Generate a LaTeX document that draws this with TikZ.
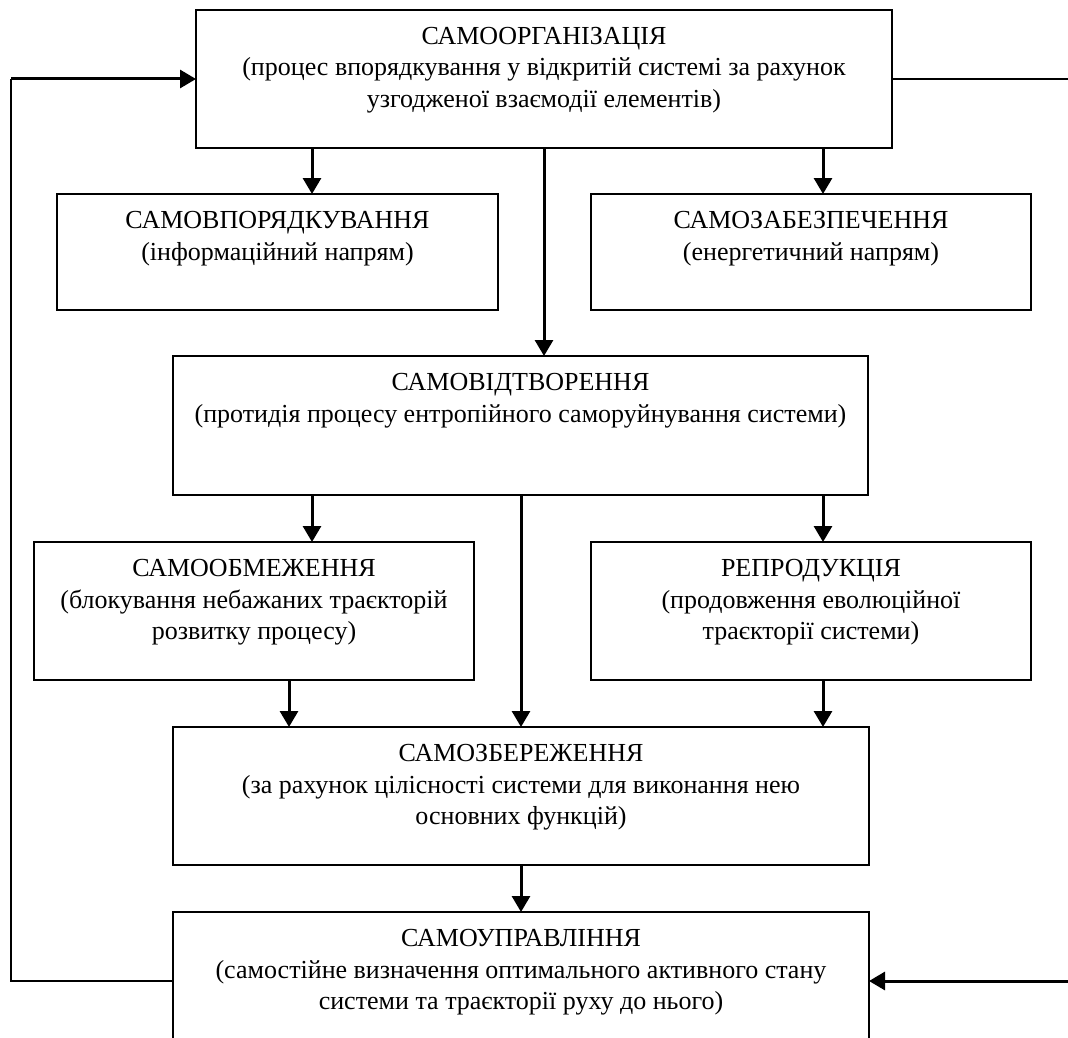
\documentclass[tikz,border=0pt]{standalone}
\usepackage{fontspec}
\setmainfont{Liberation Serif}
\usetikzlibrary{arrows.meta,calc}
\newcommand{\boxtext}[3]{\parbox[c][#2][t]{#1}{\centering\fontsize{26}{31.5}\selectfont\rule{0pt}{34.5pt}#3}}
\tikzset{
  blk/.style={draw, line width=1.6pt, inner sep=0pt, outer sep=0pt, anchor=north west},
  arr/.style={line width=3pt, -{Triangle[length=16pt,width=18pt]}},
  fb/.style={line width=1.6pt},
}
\begin{document}
\begin{tikzpicture}[x=1pt,y=-1pt]
\useasboundingbox (0,0) rectangle (1068,1038);
\clip (0,0) rectangle (1068,1038);
\node[blk] (T) at (196,10) {\boxtext{696pt}{138pt}{САМООРГАНІЗАЦІЯ\\(процес впорядкування у відкритій системі за рахунок\\узгодженої взаємодії елементів)}};
\node[blk] (A) at (57,194) {\boxtext{441pt}{116pt}{САМОВПОРЯДКУВАННЯ\\(інформаційний напрям)}};
\node[blk] (B) at (591,194) {\boxtext{440pt}{116pt}{САМОЗАБЕЗПЕЧЕННЯ\\(енергетичний напрям)}};
\node[blk] (C) at (173,356) {\boxtext{695pt}{139pt}{САМОВІДТВОРЕННЯ\\(протидія процесу ентропійного саморуйнування системи)}};
\node[blk] (D) at (34,542) {\boxtext{440pt}{138pt}{САМООБМЕЖЕННЯ\\(блокування небажаних траєкторій\\розвитку процесу)}};
\node[blk] (E) at (591,542) {\boxtext{440pt}{138pt}{РЕПРОДУКЦІЯ\\(продовження еволюційної\\траєкторії системи)}};
\node[blk] (F) at (173,727) {\boxtext{696pt}{138pt}{САМОЗБЕРЕЖЕННЯ\\(за рахунок цілісності системи для виконання нею\\основних функцій)}};
\node[blk] (G) at (173,912) {\boxtext{696pt}{150pt}{САМОУПРАВЛІННЯ\\(самостійне визначення оптимального активного стану\\системи та траєкторії руху до нього)}};
% guide coordinates
\coordinate (xa) at (312,0);
\coordinate (xb) at (823,0);
\coordinate (xc) at (544,0);
\coordinate (xm) at (521,0);
\coordinate (xd) at (289,0);
\coordinate (lb) at (11,981);
\coordinate (lt) at (11,79);
\coordinate (rt) at (1068,79);
\coordinate (rb) at (1068,981);
% arrows
\draw[arr] (T.south -| xa) -- (A.north -| xa);
\draw[arr] (T.south -| xb) -- (B.north -| xb);
\draw[arr] (T.south -| xc) -- (C.north -| xc);
\draw[arr] (C.south -| xa) -- (D.north -| xa);
\draw[arr] (C.south -| xb) -- (E.north -| xb);
\draw[arr] (C.south -| xm) -- (F.north -| xm);
\draw[arr] (D.south -| xd) -- (F.north -| xd);
\draw[arr] (E.south -| xb) -- (F.north -| xb);
\draw[arr] (F.south -| xm) -- (G.north -| xm);
% feedback
\draw[fb] (G.west |- lb) -- (lb) -- (lt);
\draw[arr] (lt) -- (T.west |- lt);
\draw[fb] (T.east |- rt) -- (rt);
\draw[arr] (rb) -- (G.east |- rb);
\end{tikzpicture}
\end{document}
